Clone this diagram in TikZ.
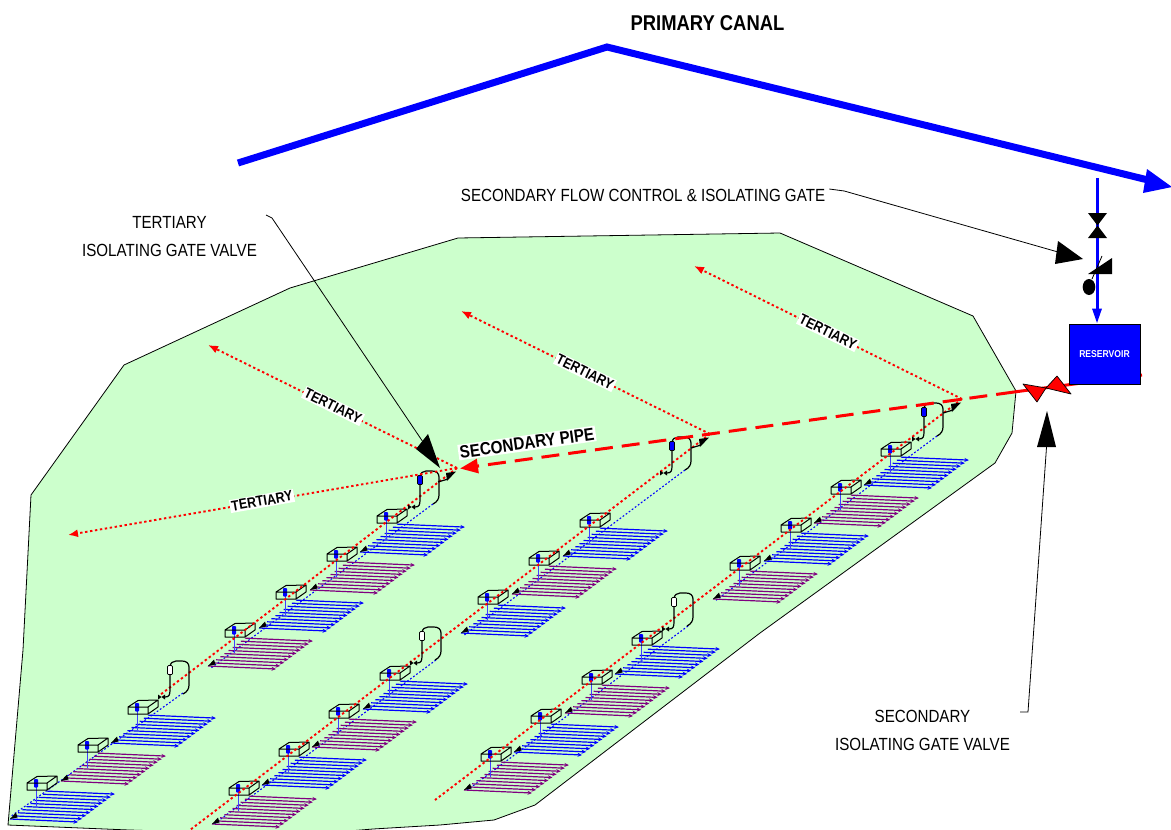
\documentclass[tikz,border=0pt]{standalone}
\usepackage{fontspec}
\setmainfont[FakeStretch=0.86]{Liberation Sans}
\usetikzlibrary{arrows.meta}
\definecolor{landgreen}{HTML}{CCFFCC}
\definecolor{pureblue}{HTML}{0000FF}
\definecolor{purered}{HTML}{FF0000}
\definecolor{fieldpurple}{HTML}{800080}
\tikzset{
  thinline/.style={draw=black,line width=.8pt},
  headfill/.style={fill=black,draw=none},
  tertiaryline/.style={draw=purered,line width=1.9pt,dash pattern=on 2.4pt off 2.6pt},
  tertiaryarrow/.style={tertiaryline,-{Latex[length=10pt,width=8pt]}},
  lateral/.style={draw=pureblue,line width=1.1pt,dash pattern=on 1.8pt off 2pt},
  tertlabel/.style={fill=white,inner sep=1.5pt,font=\fontsize{14.5}{16}\selectfont\bfseries},
  biglabel/.style={font=\fontsize{17.6}{28}\selectfont,align=center,inner sep=0pt},
  pipered/.style={draw=purered,line width=3pt},
  loopline/.style={draw=black,line width=1.2pt},
}
% field of parallel laterals with its box; #1 x, #2 y, #3 colour
\newcommand{\plotunit}[3]{%
  \begin{scope}[shift={(#1,#2)}]
    \foreach \k in {0,...,9}{
      \draw[draw=#3,line width=1.2pt,-{Stealth[length=4.5pt,width=4pt]}]
        ({-17+\k*4.1},{36-\k*3.1}) -- ++(68,3);
    }
    \fill[black] (-17,36) -- (-11,29.5) -- (-9.5,34.5) -- cycle;
    \draw[draw=pureblue!75!white,line width=1pt] (9,0) -- (9,23);
    \fill[pureblue,rounded corners=.8pt] (7,-4) rectangle (11,4.5);
    \draw[draw=black,line width=1pt,line join=round] (0,0) rectangle (20,7) (0,0) -- (10,-6.5) -- (30,-7) -- (30,0) -- (20,7) (20,0) -- (30,-7);
  \end{scope}}
% loop round a valve; #1 x, #2 y of the pill, #3 pill colour
\newcommand{\valveloop}[3]{%
  \begin{scope}[shift={(#1,#2)}]
    \draw[loopline] (-5,27) .. controls (-1,27) and (0,25) .. (0,20) -- (0,-3)
      .. controls (0,-7) and (3,-9) .. (6,-9) -- (12,-9)
      .. controls (16,-9) and (19,-7) .. (19,-3) -- (19,15)
      .. controls (19,19) and (17,22) .. (13,24);
    \fill[black] (-12,24.5) -- (-12,29.5) -- (-5,24.5) -- (-5,29.5) -- cycle;
    \draw[draw=black,line width=.7pt,fill=#3,rounded corners=1pt] (-2.5,-4.5) rectangle (2.5,4.5);
  \end{scope}}
% flap gate near a junction; #1 x, #2 y of the junction
\newcommand{\flapgate}[2]{%
  \begin{scope}[shift={(#1,#2)}]
    \fill[black] (-11,5) -- (-1,3.5) -- (-10,13) -- cycle;
    \draw[black,line width=1.2pt] (-19,14) -- (-9,11);
  \end{scope}}
\begin{document}
\begin{tikzpicture}[x=1pt,y=-1pt]
\useasboundingbox (0,0) rectangle (1171,830);
\clip (0,0) rectangle (1171,830);
\fill[white] (0,0) rectangle (1171,830);
% land
\draw[thinline,fill=landgreen,line join=round] (31,495) -- (23,650) -- (8,825) -- (129,830) -- (300,835) -- (373,829) -- (440,825) -- (494,820) -- (535,805) -- (760,633) -- (995,463) -- (1012,433) -- (1016,391) -- (973,316) -- (780,233) -- (458,238) -- (290,288) -- (124,365) -- cycle;
% junctions
\coordinate (jA) at (457,468);
\coordinate (jB) at (710,434);
\coordinate (jC) at (962,399);
% tertiary free ends
\coordinate (tA1) at (208,345);
\coordinate (tA2) at (68,535);
\coordinate (tB) at (461,311);
\coordinate (tC) at (694,266);
\coordinate (eA) at (160,695);
\coordinate (eB) at (190,830);
\coordinate (eC) at (435,800);
% lateral mains
\draw[lateral] (433,504) -- (211,668);
\draw[lateral] (183,693) -- (10,817);
\draw[lateral] (685,470) -- (463,636);
\draw[lateral] (436,660) -- (214,824);
\draw[lateral] (937,436) -- (715,601);
\draw[lateral] (688,626) -- (466,791);
% section A
\plotunit{377}{516}{pureblue}
\plotunit{327}{554}{fieldpurple}
\plotunit{276}{592}{pureblue}
\plotunit{225}{630}{fieldpurple}
\plotunit{128}{707}{pureblue}
\plotunit{78}{745}{fieldpurple}
\plotunit{27}{783}{pureblue}
% section B
\plotunit{580}{520}{pureblue}
\plotunit{529}{558}{fieldpurple}
\plotunit{478}{597}{pureblue}
\plotunit{380}{673}{pureblue}
\plotunit{329}{711}{fieldpurple}
\plotunit{279}{749}{pureblue}
\plotunit{229}{788}{fieldpurple}
% section C
\plotunit{881}{449}{pureblue}
\plotunit{831}{487}{fieldpurple}
\plotunit{781}{525}{pureblue}
\plotunit{730}{563}{fieldpurple}
\plotunit{632}{638}{pureblue}
\plotunit{582}{677}{fieldpurple}
\plotunit{531}{716}{pureblue}
\plotunit{481}{754}{fieldpurple}
% tertiary trunks
\draw[tertiaryline] (jA) -- (eA);
\draw[tertiaryline] (jB) -- (eB);
\draw[tertiaryline] (jC) -- (eC);
% valves
\valveloop{420}{480}{pureblue}
\valveloop{672}{446}{pureblue}
\valveloop{924}{412}{pureblue}
\valveloop{170}{670}{white}
\valveloop{422}{636}{white}
\valveloop{674}{602}{white}
\flapgate{457}{468}
\flapgate{710}{434}
\flapgate{962}{399}
% tertiary branches
\draw[tertiaryarrow] (jA) -- (tA1);
\draw[tertiaryarrow] (jA) -- (tA2);
\draw[tertiaryarrow] (jB) -- (tB);
\draw[tertiaryarrow] (jC) -- (tC);
\node[tertlabel,rotate=-26] (labT1) at (333,406) {TERTIARY};
\node[tertlabel,rotate=10] (labT2) at (262,501) {TERTIARY};
\node[tertlabel,rotate=-26] (labT3) at (585,372) {TERTIARY};
\node[tertlabel,rotate=-26] (labT4) at (828,332) {TERTIARY};
% secondary pipe
\coordinate (pipeStart) at (1142,375);
\coordinate (pipeEdge) at (1014,392);
\coordinate (pipeTip) at (460,468.5);
\draw[pipered] (pipeStart) -- (pipeEdge);
% reservoir
\node[fill=pureblue,draw=black,line width=.8pt,minimum width=71pt,minimum height=60pt,inner sep=0pt,text=white,font=\fontsize{10}{12}\selectfont\bfseries] (res) at (1104.5,354) {RESERVOIR};
\draw[pipered,dash pattern=on 18pt off 9pt,-{Triangle[length=18pt,width=14pt]}] (pipeEdge) -- (pipeTip);
\draw[draw=black,line width=.7pt,fill=purered,line join=round] (1023,384) -- (1046,388) -- (1037,402) -- cycle;
\draw[draw=black,line width=.7pt,fill=purered,line join=round] (1046,388) -- (1057,376) -- (1071,394) -- cycle;
\node[fill=white,inner sep=1.5pt,rotate=8,font=\fontsize{17.7}{20}\selectfont\bfseries] (labSP) at (527,443) {SECONDARY PIPE};
% primary canal
\coordinate (canA) at (238,163);
\coordinate (canB) at (607,47);
\coordinate (canC) at (1148,180);
\draw[draw=pureblue,line width=7pt,line join=miter] (canA) -- (canB) -- (canC);
\fill[pureblue] (1147,169) -- (1172,187) -- (1143,193) -- cycle;
\node[inner sep=0pt,font=\fontsize{21.4}{24}\selectfont\bfseries] (labPC) at (707.5,23) {PRIMARY CANAL};
% supply to reservoir
\coordinate (feed) at (1097,178);
\draw[draw=pureblue,line width=3pt,-{Triangle[length=15pt,width=9pt]}] (feed) -- (res.north -| feed);
\fill[black] (1088,213) -- (1107,213) -- (1088,238) -- (1107,238) -- cycle;
\fill[black] (1088,274) -- (1112,258) -- (1112,274) -- cycle;
\draw[black,line width=.8pt] (1102,256) -- (1092,279);
\fill[black] (1089,287) ellipse [x radius=6.3pt,y radius=8pt];
% labels and leaders
\node[biglabel] (labFlow) at (643,195) {SECONDARY FLOW CONTROL \& ISOLATING GATE};
\node[biglabel] (labTert) at (169.5,237) {TERTIARY\\ISOLATING GATE VALVE};
\node[biglabel] (labSec) at (922.5,730) {SECONDARY\\ISOLATING GATE VALVE};
\draw[thinline] (labFlow.east) ++(4,-6) -- ++(15,2) -- (1058,252);
\fill[black] (1058,241) -- (1083,259) -- (1055,264) -- cycle;
\draw[thinline] (266,215) -- (272,218) -- (423,442);
\fill[black] (416,449) -- (428,434) -- (440,468) -- cycle;
\draw[thinline] (1020,712) -- (1028,712) -- (1047,440);
\fill[black] (1037,447) -- (1047,411) -- (1056,447) -- cycle;
\end{tikzpicture}
\end{document}
